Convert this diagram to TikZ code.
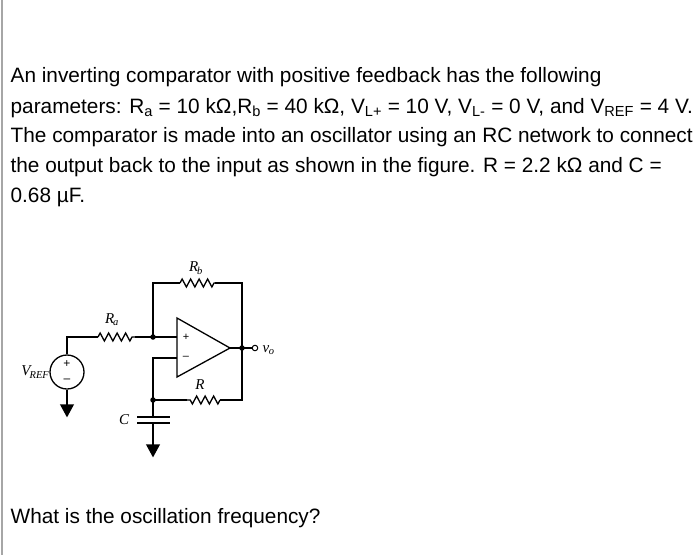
\documentclass[tikz,border=0pt]{standalone}
\usepackage{fontspec}
\setmainfont{Liberation Sans}
\newfontfamily\serifit{Liberation Serif}[ItalicFont={Liberation Serif Italic}]
\usetikzlibrary{decorations.pathmorphing}
\begin{document}
\begin{tikzpicture}[x=1pt,y=-1pt,line width=1.3pt,
  txt/.style={anchor=base west,inner sep=0,font=\fontsize{20.8}{20.8}\selectfont},
  lbl/.style={inner sep=0,font=\serifit\itshape\fontsize{15}{15}\selectfont},
  res/.style={decorate,decoration={zigzag,segment length=8.5pt,amplitude=4pt}},
  dot/.style={circle,fill,inner sep=0,minimum size=5.5pt}]
\useasboundingbox (0,0) rectangle (700,555);
\fill[white] (0,0) rectangle (700,555);
\draw[gray!70,line width=2pt] (2,0) -- (2,555);
\node[txt] (l1) at (10,82) {An inverting comparator with positive feedback has the following};
\node[txt] (l2) at (10,113) {parameters: R\textsubscript{a} = 10 kΩ,R\textsubscript{b} = 40 kΩ, V\textsubscript{L+} = 10 V, V\textsubscript{L-} = 0 V, and V\textsubscript{REF} = 4 V.};
\node[txt] (l3) at (10,142) {The comparator is made into an oscillator using an RC network to connect};
\node[txt] (l4) at (10,172) {the output back to the input as shown in the figure. R = 2.2 kΩ and C =};
\node[txt] (l5) at (10,202) {0.68 µF.};
\node[txt] (q) at (10,523) {What is the oscillation frequency?};
% circuit
\coordinate (np) at (153,337);
\coordinate (ntop) at (153,283);
\coordinate (rtop) at (242,283);
\coordinate (out) at (242,348);
\coordinate (nm) at (153,358);
\coordinate (nb) at (153,400);
\coordinate (rb) at (242,400);
\coordinate (vtop) at (67,337);
\node[draw,circle,minimum size=34pt,inner sep=0] (src) at (67,372) {};
\node[font=\fontsize{12}{12}\selectfont,inner sep=0] (sp) at (67,364) {+};
\node[font=\fontsize{12}{12}\selectfont,inner sep=0] (sm) at (67,381) {--};
\draw (src.north) -- (vtop) -- (98,337);
\draw[res] (98,337) -- (135,337);
\draw (135,337) -- (np) -- (177,337);
\draw (np) -- (ntop) -- (180,283);
\draw[res] (180,283) -- (215,283);
\draw (215,283) -- (rtop) -- (out) -- (rb) -- (220,400);
\draw[res] (220,400) -- (187,400);
\draw (187,400) -- (nb) -- (nm) -- (177,358);
\draw (177,318) -- (230,348) -- (177,377) -- cycle;
\node[font=\fontsize{11}{11}\selectfont,inner sep=0] (ip) at (186,337) {+};
\node[font=\fontsize{11}{11}\selectfont,inner sep=0] (im) at (186,358) {--};
\draw (230,348) -- (out) -- (252,348);
\node[draw,circle,fill=white,minimum size=5.5pt,inner sep=0,line width=1pt] (vo) at (255,348) {};
\node[lbl,anchor=west] (vol) at (262,350) {v\textsubscript{\kern-0.5pt o}};
\node[dot] (d1) at (np) {};
\node[dot] (d2) at (out) {};
\node[dot] (d3) at (nb) {};
% ground at source
\draw (src.south) -- (67,405);
\filldraw (61,405) -- (73,405) -- (67,416) -- cycle;
% capacitor
\draw (nb) -- (153,417);
\draw (137,417) -- (170,417);
\draw (137,423) -- (170,423);
\draw (153,423) -- (153,445);
\filldraw (147,445) -- (159,445) -- (153,456) -- cycle;
% labels
\node[lbl] (lrb) at (196,268) {R\textsubscript{\kern-1pt b}};
\node[lbl] (lra) at (112,320) {R\textsubscript{\kern-1pt a}};
\node[lbl] (lr) at (200,385) {R};
\node[lbl] (lc) at (124,420) {C};
\node[lbl,anchor=east] (lv) at (50,372) {V\textsubscript{\kern-1pt REF}};
\end{tikzpicture}
\end{document}
